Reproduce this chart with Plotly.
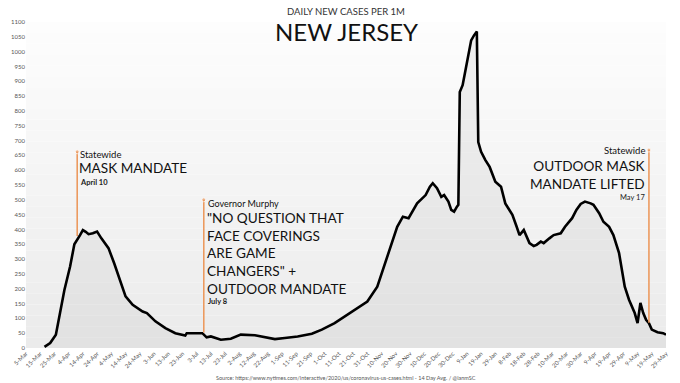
import plotly.graph_objects as go
import pandas as pd

# ---- data ----
dates = [
    "2020-03-18", "2020-03-22", "2020-03-26", "2020-03-29", "2020-04-01", "2020-04-05",
    "2020-04-08", "2020-04-12", "2020-04-14", "2020-04-16", "2020-04-18", "2020-04-21",
    "2020-04-24", "2020-04-27", "2020-05-02", "2020-05-06", "2020-05-10", "2020-05-14",
    "2020-05-19", "2020-05-26", "2020-05-29", "2020-06-04", "2020-06-11", "2020-06-18",
    "2020-06-25", "2020-06-26", "2020-07-07", "2020-07-10", "2020-07-13", "2020-07-20",
    "2020-07-27", "2020-08-03", "2020-08-13", "2020-08-20", "2020-08-27", "2020-09-03",
    "2020-09-12", "2020-09-22", "2020-09-29", "2020-10-08", "2020-10-19", "2020-10-31",
    "2020-11-07", "2020-11-13", "2020-11-16", "2020-11-21", "2020-11-25", "2020-11-29",
    "2020-12-05", "2020-12-11", "2020-12-14", "2020-12-16", "2020-12-19", "2020-12-22",
    "2020-12-24", "2020-12-27", "2020-12-29", "2020-12-31", "2021-01-02", "2021-01-03",
    "2021-01-04", "2021-01-06", "2021-01-08", "2021-01-10", "2021-01-12", "2021-01-14",
    "2021-01-16", "2021-01-17", "2021-01-19", "2021-01-22", "2021-01-25", "2021-01-29",
    "2021-02-02", "2021-02-05", "2021-02-10", "2021-02-13", "2021-02-15", "2021-02-18",
    "2021-02-20", "2021-02-22", "2021-02-25", "2021-02-27", "2021-03-02", "2021-03-04",
    "2021-03-08", "2021-03-11", "2021-03-16", "2021-03-19", "2021-03-24", "2021-03-27",
    "2021-03-30", "2021-04-02", "2021-04-06", "2021-04-08", "2021-04-12", "2021-04-15",
    "2021-04-19", "2021-04-22", "2021-04-26", "2021-04-28", "2021-04-30", "2021-05-03",
    "2021-05-07", "2021-05-09", "2021-05-11", "2021-05-13", "2021-05-15", "2021-05-17",
    "2021-05-19", "2021-05-23", "2021-05-27", "2021-05-29",
]
cases = [
    4, 17, 45, 118, 196, 275,
    350, 381, 398, 392, 384, 387,
    393, 370, 337, 286, 230, 174,
    146, 123, 118, 90, 67, 50,
    42, 50, 50, 36, 39, 28,
    31, 45, 43, 37, 30, 34,
    39, 48, 62, 84, 118, 157,
    207, 297, 342, 409, 443, 438,
    488, 516, 544, 556, 539, 510,
    516, 494, 466, 460, 477, 483,
    864, 887, 937, 993, 1038, 1055,
    1068, 695, 662, 634, 611, 561,
    544, 488, 449, 409, 381, 398,
    376, 354, 344, 348, 359, 354,
    370, 381, 387, 409, 438, 466,
    486, 494, 488, 483, 455, 426,
    409, 381, 320, 264, 207, 163,
    118, 84, 152, 118, 95, 84,
    62, 53, 50, 45,
]

tick_labels = [
    "5-Mar", "15-Mar", "25-Mar", "4-Apr", "14-Apr", "24-Apr", "4-May", "14-May", "24-May",
    "3-Jun", "13-Jun", "23-Jun", "3-Jul", "13-Jul", "23-Jul", "2-Aug", "12-Aug", "22-Aug",
    "1-Sep", "11-Sep", "21-Sep", "1-Oct", "11-Oct", "21-Oct", "31-Oct", "10-Nov", "20-Nov",
    "30-Nov", "10-Dec", "20-Dec", "30-Dec", "9-Jan", "19-Jan", "29-Jan", "8-Feb", "18-Feb",
    "28-Feb", "10-Mar", "20-Mar", "30-Mar", "9-Apr", "19-Apr", "29-Apr", "9-May", "19-May",
    "29-May",
]
tick_vals = pd.date_range("2020-03-05", periods=len(tick_labels), freq="10D")

y_ticks = list(range(0, 1101, 50))

# annotation events: date, top value, bottom value (curve)
event_dates = ["2020-04-10", "2020-07-08", "2021-05-17"]
event_tops = [662, 500, 668]
event_bottoms = [378, 52, 85]

ORANGE = "#ec9a5f"
FONT = "Lato, 'Noto Sans', sans-serif"
BIG = 13.6

fig = go.Figure()

# main 14-day average line with light fill underneath
fig.add_trace(go.Scatter(
    x=dates, y=cases, mode="lines",
    line=dict(color="#000000", width=2.6),
    fill="tozeroy", fillcolor="rgba(190,190,190,0.2)",
    hoverinfo="skip", showlegend=False,
))

# event marker lines
for d, top, bot in zip(event_dates, event_tops, event_bottoms):
    fig.add_trace(go.Scatter(
        x=[d, d], y=[bot, top], mode="lines+markers",
        line=dict(color=ORANGE, width=1.6),
        marker=dict(size=[0, 4], color=ORANGE),
        hoverinfo="skip", showlegend=False,
    ))

# vertical gradient background (white top -> light grey bottom)
shapes = []
n = 30
for i in range(n):
    t = i / (n - 1)
    g = int(round(235 + (253 - 235) * t))
    shapes.append(dict(
        type="rect", xref="paper", yref="paper",
        x0=0, x1=1, y0=i / n, y1=(i + 1) / n,
        fillcolor=f"rgb({g},{g},{g})", line=dict(width=0), layer="below",
    ))

annotations = [
    # titles
    dict(text="DAILY NEW CASES PER 1M", x=0.5, y=1, xref="paper", yref="paper",
         yanchor="middle", yshift=11,
         showarrow=False, font=dict(size=9.5, color="#333333", family=FONT)),
    dict(text="NEW JERSEY", x=0.5, y=1, xref="paper", yref="paper",
         yanchor="middle", yshift=-9,
         showarrow=False, font=dict(size=24, color="#111111", family=FONT)),
    # April 10
    dict(text="Statewide", x=event_dates[0], y=652, xanchor="left", yanchor="middle",
         xshift=1, showarrow=False, font=dict(size=9.5, color="#111111", family=FONT)),
    dict(text="MASK MANDATE", x=event_dates[0], y=606, xanchor="left", yanchor="middle",
         xshift=0, showarrow=False, font=dict(size=BIG, color="#111111", family=FONT)),
    dict(text="<b>April 10</b>", x=event_dates[0], y=560, xanchor="left", yanchor="middle",
         xshift=1, showarrow=False, font=dict(size=7.5, color="#222222", family=FONT)),
    # July 8
    dict(text="Governor Murphy", x=event_dates[1], y=487, xanchor="left", yanchor="middle",
         xshift=2, showarrow=False, font=dict(size=9, color="#111111", family=FONT)),
    dict(text="\"NO QUESTION THAT<br>FACE COVERINGS<br>ARE GAME<br>CHANGERS\" +<br>OUTDOOR MANDATE",
         x=event_dates[1], y=318, xanchor="left", yanchor="middle", align="left",
         xshift=1, showarrow=False, font=dict(size=BIG, color="#111111", family=FONT)),
    dict(text="<b>July 8</b>", x=event_dates[1], y=158, xanchor="left", yanchor="middle",
         xshift=2, showarrow=False, font=dict(size=7.5, color="#222222", family=FONT)),
    # May 17
    dict(text="Statewide", x=event_dates[2], y=665, xanchor="right", yanchor="middle",
         xshift=-2, showarrow=False, font=dict(size=9.5, color="#111111", family=FONT)),
    dict(text="OUTDOOR MASK<br>MANDATE LIFTED", x=event_dates[2], y=584, xanchor="right",
         yanchor="middle", align="right", xshift=-1, showarrow=False,
         font=dict(size=BIG, color="#111111", family=FONT)),
    dict(text="May 17", x=event_dates[2], y=509, xanchor="right", yanchor="middle",
         xshift=-2, showarrow=False, font=dict(size=7.5, color="#222222", family=FONT)),
    # source
    dict(text="Source: https://www.nytimes.com/interactive/2020/us/coronavirus-us-cases.html - 14 Day Avg. / @ianmSC",
         x=0.5, y=0, xref="paper", yref="paper", yanchor="middle", yshift=-30,
         showarrow=False, font=dict(size=5.5, color="#555555", family=FONT)),
]

fig.update_layout(
    width=680, height=383,
    margin=dict(l=20, r=11, t=22, b=35),
    paper_bgcolor="#ffffff",
    plot_bgcolor="#ffffff",
    shapes=shapes,
    annotations=annotations,
    showlegend=False,
    font=dict(family=FONT),
    xaxis=dict(
        type="date",
        range=["2020-03-05", "2021-05-29"],
        tickvals=tick_vals, ticktext=tick_labels,
        tickangle=-45, tickfont=dict(size=6, color="#555555"),
        showgrid=False, zeroline=False, showline=False, ticks="",
    ),
    yaxis=dict(
        range=[0, 1100],
        tickvals=y_ticks,
        tickfont=dict(size=6, color="#555555"),
        showgrid=False, zeroline=False, showline=False, ticks="",
    ),
)

fig.write_html(
    "out.html",
    config={"displayModeBar": False},
    post_script="document.body.style.margin='0px';document.body.style.overflow='hidden';",
)
